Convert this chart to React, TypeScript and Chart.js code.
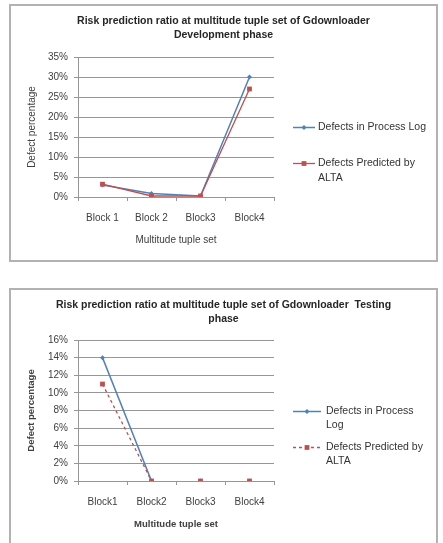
import { useEffect, useRef } from "react";
import { Chart, registerables } from "chart.js";

Chart.register(...registerables);

// ---- data ----
const devBlocks = ["Block 1", "Block 2", "Block3", "Block4"];
const devProcessLog = [3.0, 0.9, 0.25, 30];
const devAlta = [3.2, 0.25, 0.25, 27];
const devYMax = 35;
const devYStep = 5;
const devTitle = ["Risk prediction ratio at multitude tuple set of Gdownloader", "Development phase"];
const devLegend = [["Defects in Process Log"], ["Defects Predicted by", "ALTA"]];

const testBlocks = ["Block1", "Block2", "Block3", "Block4"];
const testProcessLog = [14, 0, 0, 0];
const testAlta = [11, 0, 0, 0];
const testYMax = 16;
const testYStep = 2;
const testTitle = ["Risk prediction ratio at multitude tuple set of Gdownloader  Testing", "phase"];
const testLegend = [["Defects in Process", "Log"], ["Defects Predicted by", "ALTA"]];

const xAxisTitle = "Multitude tuple set";
const yAxisTitle = "Defect percentage";

// ---- styles ----
const FONT = "'Liberation Sans', Arial, sans-serif";
const BLUE = "#4F81BD";
const RED = "#C0504D";
const GRID = "#969696";
const TEXT = "#404040";
const CANVAS_W = 425;
const CANVAS_H = 254;
const AREA_BOTTOM = 191;

type PanelProps = {
  top: number;
  labels: string[];
  logValues: number[];
  altaValues: number[];
  yMax: number;
  yStep: number;
  title: string[];
  legend: string[][];
  boldAxisTitles: boolean;
  altaDashed: boolean;
  legendLine: number;
  legendGap: number;
  legendLineSpacing: number;
  areaTop: number;
  hideFlatZero: boolean;
};

function drawMarker(ctx: CanvasRenderingContext2D, style: string, x: number, y: number, r: number, color: string) {
  ctx.fillStyle = color;
  ctx.beginPath();
  if (style === "rect") {
    const s = Math.SQRT1_2 * r;
    ctx.rect(x - s, y - s, 2 * s, 2 * s);
  } else {
    ctx.moveTo(x, y - r);
    ctx.lineTo(x + r, y);
    ctx.lineTo(x, y + r);
    ctx.lineTo(x - r, y);
    ctx.closePath();
  }
  ctx.fill();
}

function Panel(props: PanelProps) {
  const ref = useRef<HTMLCanvasElement | null>(null);

  useEffect(() => {
    const canvas = ref.current;
    if (!canvas) return;

    // flat runs along the 0% baseline are left without a connecting stroke
    const flatZero = (c: any) =>
      props.hideFlatZero && c.p0.parsed.y === 0 && c.p1.parsed.y === 0 ? "rgba(0,0,0,0)" : undefined;

    const decor = {
      id: "panelDecor",
      afterDraw(chart: any) {
        const ctx: CanvasRenderingContext2D = chart.ctx;
        const area = chart.chartArea;
        ctx.save();
        // two-line heading centred across the panel
        ctx.font = `bold 10.5px ${FONT}`;
        ctx.fillStyle = "#262626";
        ctx.textAlign = "center";
        ctx.textBaseline = "middle";
        props.title.forEach((line, i) => ctx.fillText(line, chart.width / 2, 15 + i * 14));

        // legend to the right of the plot
        const mid = (area.top + area.bottom) / 2;
        const x0 = area.right + 19;
        chart.data.datasets.forEach((ds: any, i: number) => {
          const y = Math.round(mid + i * 36) + 0.5;
          ctx.strokeStyle = ds.borderColor;
          ctx.lineWidth = ds.borderWidth;
          ctx.setLineDash(ds.borderDash || []);
          ctx.beginPath();
          ctx.moveTo(x0, y);
          ctx.lineTo(x0 + props.legendLine, y);
          ctx.stroke();
          ctx.setLineDash([]);
          drawMarker(ctx, ds.pointStyle, x0 + props.legendLine / 2, y, ds.pointRadius, ds.borderColor);
          ctx.font = `10.5px ${FONT}`;
          ctx.fillStyle = "#333333";
          ctx.textAlign = "left";
          ctx.textBaseline = "middle";
          props.legend[i].forEach((line, j) =>
            ctx.fillText(line, x0 + props.legendLine + props.legendGap, y + j * props.legendLineSpacing)
          );
        });
        ctx.restore();
      },
    };

    const axisTitleFont = {
      family: FONT,
      size: props.boldAxisTitles ? 9.5 : 10,
      weight: props.boldAxisTitles ? "bold" : "normal",
    } as any;

    const chart = new Chart(canvas, {
      type: "line",
      data: {
        labels: props.labels,
        datasets: [
          {
            label: props.legend[0].join(" "),
            data: props.logValues,
            borderColor: BLUE,
            backgroundColor: BLUE,
            borderWidth: 1.5,
            pointStyle: "rectRot",
            pointRadius: 2.5,
            pointBorderWidth: 0,
            order: 2,
            segment: { borderColor: flatZero },
          },
          {
            label: props.legend[1].join(" "),
            data: props.altaValues,
            borderColor: RED,
            backgroundColor: RED,
            borderWidth: 1.3,
            borderDash: props.altaDashed ? [3, 3] : [],
            pointStyle: "rect",
            pointRadius: 3.4,
            pointBorderWidth: 0,
            order: 1,
            segment: { borderColor: flatZero },
          },
        ],
      },
      options: {
        responsive: false,
        animation: false,
        events: [],
        layout: { padding: { top: props.areaTop, right: CANVAS_W - 263, left: 0, bottom: 0 } },
        plugins: {
          legend: { display: false },
          tooltip: { enabled: false },
          title: { display: false },
        },
        scales: {
          x: {
            offset: true,
            grid: {
              offset: true,
              drawOnChartArea: false,
              drawTicks: true,
              tickLength: 4,
              tickColor: GRID,
              color: GRID,
            },
            border: { display: true, color: GRID, width: 1 },
            ticks: {
              padding: 11,
              color: TEXT,
              font: { family: FONT, size: 10 },
              maxRotation: 0,
              autoSkip: false,
            },
            title: {
              display: true,
              text: xAxisTitle,
              color: TEXT,
              font: axisTitleFont,
              padding: { top: 0, bottom: 14 },
            },
            afterFit: (s: any) => {
              s.height = CANVAS_H - AREA_BOTTOM;
            },
          },
          y: {
            min: 0,
            max: props.yMax,
            ticks: {
              stepSize: props.yStep,
              callback: (v: any) => `${v}%`,
              padding: 6,
              color: TEXT,
              font: { family: FONT, size: 10 },
            },
            grid: { color: GRID, tickLength: 4, tickColor: GRID, drawTicks: true },
            border: { display: true, color: GRID, width: 1 },
            title: {
              display: true,
              text: yAxisTitle,
              color: TEXT,
              font: axisTitleFont,
              padding: { top: 15, bottom: 0 },
            },
            afterFit: (s: any) => {
              s.width = 67;
            },
          },
        },
      } as any,
      plugins: [decor],
    });

    return () => chart.destroy();
  }, []);

  return (
    <div
      style={{
        position: "absolute",
        left: 9,
        top: props.top,
        width: 429,
        height: 258,
        border: "2px solid #b2b2b2",
        boxSizing: "border-box",
        background: "#ffffff",
      }}
    >
      <canvas ref={ref} width={CANVAS_W} height={CANVAS_H} style={{ position: "absolute", left: 0, top: 0 }} />
    </div>
  );
}

export default function App() {
  return (
    <div
      style={{
        position: "absolute",
        left: 0,
        top: 0,
        width: 443,
        height: 543,
        background: "#ffffff",
        overflow: "hidden",
      }}
    >
      <Panel
        top={4}
        labels={devBlocks}
        logValues={devProcessLog}
        altaValues={devAlta}
        yMax={devYMax}
        yStep={devYStep}
        title={devTitle}
        legend={devLegend}
        boldAxisTitles={false}
        altaDashed={false}
        legendLine={22}
        legendGap={3}
        legendLineSpacing={15}
        areaTop={51}
        hideFlatZero={false}
      />
      <Panel
        top={288}
        labels={testBlocks}
        logValues={testProcessLog}
        altaValues={testAlta}
        yMax={testYMax}
        yStep={testYStep}
        title={testTitle}
        legend={testLegend}
        boldAxisTitles={true}
        altaDashed={true}
        legendLine={28}
        legendGap={5}
        legendLineSpacing={14}
        areaTop={50}
        hideFlatZero={true}
      />
    </div>
  );
}
